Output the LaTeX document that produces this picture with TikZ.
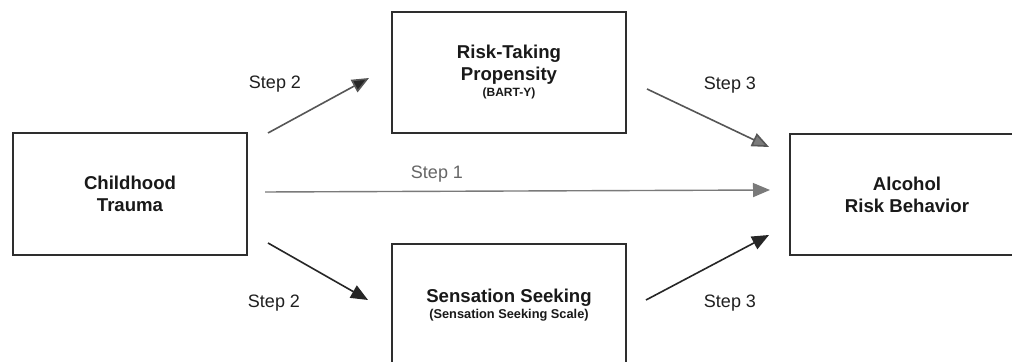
\documentclass[tikz,border=0pt]{standalone}
\usepackage{fontspec}
\setmainfont{Liberation Sans}
\usetikzlibrary{arrows.meta}
\definecolor{edge}{HTML}{2E2E2E}
\definecolor{lightline}{HTML}{7A7A7A}
\definecolor{midline}{HTML}{565656}
\definecolor{darkline}{HTML}{262626}
\begin{document}
\begin{tikzpicture}[x=0.5pt,y=-0.5pt,
  box/.style={draw=edge,line width=0.9pt,inner sep=0pt,minimum width=117pt,
    minimum height=61pt,align=center,font=\fontsize{9.3}{11}\selectfont\bfseries,
    text=black!90},
  link/.style={line width=0.8pt,-{Triangle[length=8.5pt,width=7pt]}},
  steplabel/.style={font=\fontsize{9}{11}\selectfont,text=black!88}]
\clip (0,0) rectangle (1012,362);
\fill[white] (0,0) rectangle (1012,362);

% the four constructs
\node[box] (trauma) at (130,194) {Childhood\\Trauma};
\node[box,minimum height=60.5pt] (risk) at (509,72.5)
  {Risk-Taking\\Propensity\\[-3pt]{\fontsize{6}{7}\selectfont (BART-Y)}};
\node[box] (sens) at (509,305)
  {Sensation Seeking\\[-3pt]{\fontsize{6.4}{7.5}\selectfont (Sensation Seeking Scale)}};
\node[box,minimum height=60.5pt] (alc) at (907,194.5) {Alcohol\\Risk Behavior};

% arrow end points
\coordinate (a2s) at (268,133);
\coordinate (a2e) at (369,78);
\coordinate (a3s) at (647,89);
\coordinate (a3e) at (769,147);
\coordinate (a1s) at (265,192);
\coordinate (a1e) at (770,190);
\coordinate (b2s) at (268,243);
\coordinate (b2e) at (368,300);
\coordinate (b3s) at (646,300);
\coordinate (b3e) at (769,235);

% paths
\draw[link,draw=midline,-{Triangle[length=8.5pt,width=7pt,fill=darkline]}] (a2s) -- (a2e);
\draw[link,draw=midline,-{Triangle[length=8.5pt,width=7pt,fill=lightline]}] (a3s) -- (a3e);
\draw[link,draw=lightline,line width=0.7pt] (a1s) -- (a1e);
\draw[link,draw=darkline] (b2s) -- (b2e);
\draw[link,draw=darkline] (b3s) -- (b3e);

% step labels
\node[steplabel] (l2a) at (275,84) {Step 2};
\node[steplabel] (l3a) at (730,85) {Step 3};
\node[steplabel,text=black!60] (l1) at (437,174) {Step 1};
\node[steplabel] (l2b) at (274,303) {Step 2};
\node[steplabel] (l3b) at (730,303) {Step 3};
\end{tikzpicture}
\end{document}
